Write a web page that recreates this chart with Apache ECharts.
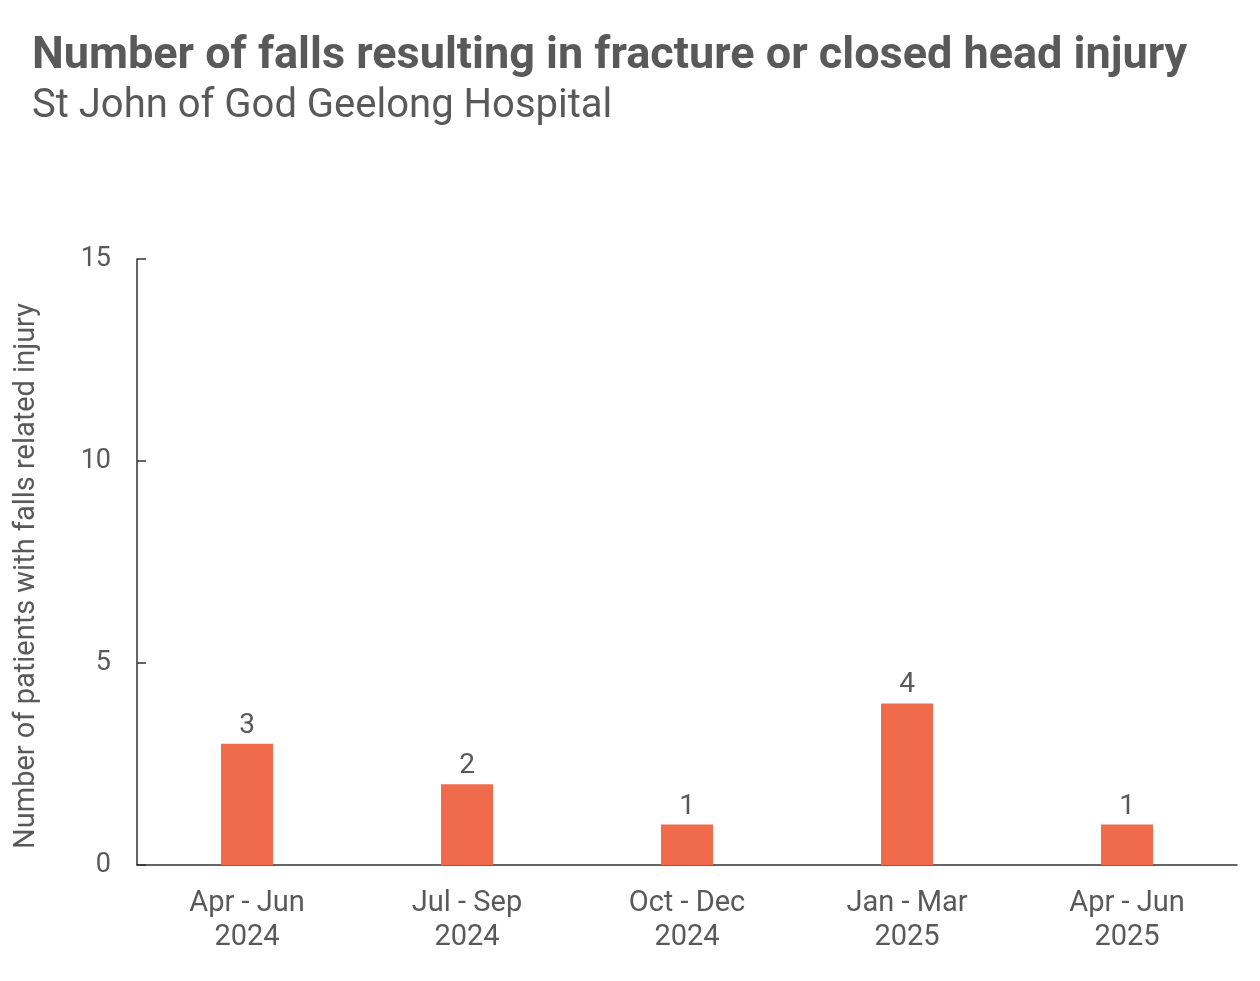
<!DOCTYPE html>
<html><head><meta charset="utf-8">
<script src="https://cdn.jsdelivr.net/npm/echarts@6/dist/echarts.min.js"></script>
<style>html,body{margin:0;padding:0;background:#fff}#c{width:1260px;height:981px}</style>
</head><body><div id="c"></div>
<script>
const categories = ["Apr - Jun\n2024", "Jul - Sep\n2024", "Oct - Dec\n2024", "Jan - Mar\n2025", "Apr - Jun\n2025"];
const values = [3, 2, 1, 4, 1];
const yTicks = [0, 5, 10, 15];
const titleText = "Number of falls resulting in fracture or closed head injury";
const subtitleText = "St John of God Geelong Hospital";
const yAxisName = "Number of patients with falls related injury";

const chart = echarts.init(document.getElementById('c'), null, {renderer: 'canvas'});
const font = 'Roboto, "Open Sans", sans-serif';
chart.setOption({
  animation: false,
  title: {
    text: titleText, subtext: subtitleText, left: 27, top: 29,
    textStyle: {fontFamily: font, fontWeight: 'bold', fontSize: 45, color: '#595959'},
    subtextStyle: {fontFamily: font, fontSize: 40, color: '#595959'},
    itemGap: 8
  },
  grid: {left: 137, right: 23, top: 259, bottom: 116, containLabel: false},
  xAxis: {
    type: 'category', data: categories,
    axisLine: {lineStyle: {color: '#333', width: 1.5}},
    axisTick: {show: false},
    axisLabel: {fontFamily: font, fontSize: 29, color: '#595959', margin: 22, lineHeight: 34}
  },
  yAxis: {
    type: 'value', min: yTicks[0], max: yTicks[yTicks.length - 1], interval: 5,
    name: yAxisName, nameLocation: 'middle', nameGap: 96,
    nameTextStyle: {fontFamily: font, fontSize: 29, color: '#595959', padding: [0, 28, 0, 0]},
    axisLine: {show: true, lineStyle: {color: '#333', width: 1.5}},
    axisTick: {show: true, inside: true, length: 9, lineStyle: {color: '#333', width: 1.5}},
    splitLine: {show: false},
    axisLabel: {fontFamily: font, fontSize: 27, color: '#595959', margin: 26}
  },
  series: [{
    type: 'bar', data: values, barWidth: 52,
    itemStyle: {color: '#F06A4C'},
    label: {show: true, position: 'top', fontFamily: font, fontSize: 28, color: '#595959', distance: 4}
  }]
});
</script></body></html>
